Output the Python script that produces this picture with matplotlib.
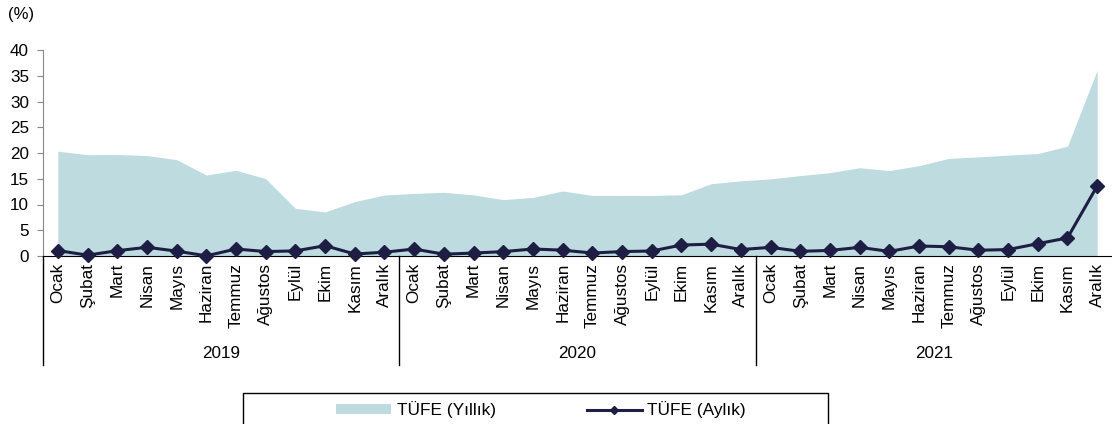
import matplotlib
matplotlib.use("Agg")
import matplotlib.pyplot as plt
from matplotlib.lines import Line2D
from matplotlib.patches import Patch, Rectangle

plt.rcParams['font.family'] = ['Liberation Sans', 'DejaVu Sans']

# -------------------------------
#   DATA
# -------------------------------
months = ["Ocak", "Şubat", "Mart", "Nisan", "Mayıs", "Haziran",
          "Temmuz", "Ağustos", "Eylül", "Ekim", "Kasım", "Aralık"]
years = ["2019", "2020", "2021"]

tufe_yillik = [20.35, 19.67, 19.71, 19.50, 18.71, 15.72, 16.65, 15.01, 9.26, 8.55, 10.56, 11.84,
               12.15, 12.37, 11.86, 10.94, 11.39, 12.62, 11.76, 11.77, 11.75, 11.89, 14.03, 14.60,
               14.97, 15.61, 16.19, 17.14, 16.59, 17.53, 18.95, 19.25, 19.58, 19.89, 21.31, 36.08]
tufe_aylik = [1.06, 0.16, 1.03, 1.69, 0.95, 0.03, 1.36, 0.86, 0.99, 2.00, 0.38, 0.74,
              1.35, 0.35, 0.57, 0.85, 1.36, 1.13, 0.58, 0.86, 0.97, 2.13, 2.30, 1.25,
              1.68, 0.91, 1.08, 1.68, 0.89, 1.94, 1.80, 1.12, 1.25, 2.39, 3.51, 13.58]

area_color = "#bedbe0"
line_color = "#1e1e44"

# -------------------------------
#   PLOT
# -------------------------------
fig = plt.figure(figsize=(11.12, 4.24), dpi=100)
ax = fig.add_axes([43 / 1112, 168 / 424, 1 - 43 / 1112, 206 / 424])

x = list(range(len(tufe_yillik)))
ax.fill_between(x, 0, tufe_yillik, color=area_color, linewidth=0)
ax.plot(x, tufe_aylik, color=line_color, lw=2.2, marker="D", ms=7, clip_on=False, zorder=3)

ax.set_xlim(-0.5, len(x) - 0.5)
ax.set_ylim(0, 40)
ax.set_yticks(range(0, 41, 5))
ax.tick_params(axis="y", labelsize=12.3, length=4, color="#888888", pad=6)

ax.set_xticks(x)
ax.set_xticklabels(months * len(years), rotation=90, fontsize=12.3)
ax.tick_params(axis="x", length=0, pad=5)

for s in ["top", "right"]:
    ax.spines[s].set_visible(False)
ax.spines["left"].set_color("#888888")
ax.spines["bottom"].set_color("black")

# yıl ayırıcı çizgiler ve yıl etiketleri
trans = ax.get_xaxis_transform()
for i, yr in enumerate(years):
    x0 = i * 12 - 0.5
    ax.plot([x0, x0], [0, -0.53], color="black", lw=1, transform=trans, clip_on=False)
    ax.text(i * 12 + 5.5, -0.475, yr, transform=trans, ha="center", va="center", fontsize=12.3)

fig.text(8 / 1112, 1 - 15 / 424, "(%)", fontsize=12, ha="left", va="center")

# legend
fig.patches.append(Rectangle((243 / 1112, -0.01), 585 / 1112, 0.0828, transform=fig.transFigure,
                             facecolor="white", edgecolor="black", lw=1))
handles = [Patch(facecolor=area_color, edgecolor="none"),
           Line2D([], [], color=line_color, lw=2.2, marker="D", ms=4)]
fig.legend(handles, ["TÜFE (Yıllık)", "TÜFE (Aylık)"], loc="center",
           bbox_to_anchor=(541 / 1112, 14 / 424), ncol=2, frameon=False, fontsize=12.4,
           handlelength=3.2, handleheight=0.5, handletextpad=0.3, columnspacing=5.3,
           borderpad=0, borderaxespad=0)

fig.savefig("out.png", dpi=100)
